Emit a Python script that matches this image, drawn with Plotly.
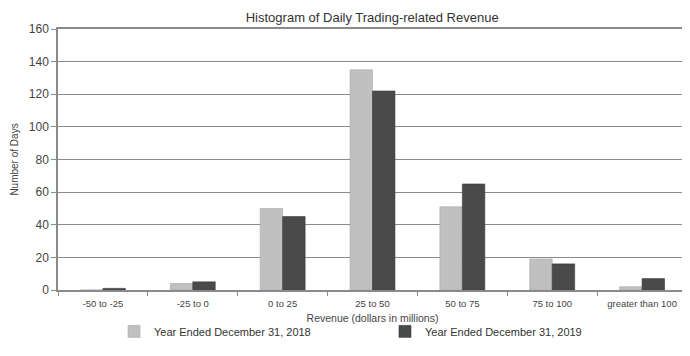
import plotly.graph_objects as go

categories = ["-50 to -25", "-25 to 0", "0 to 25", "25 to 50", "50 to 75", "75 to 100", "greater than 100"]
days_2018 = [0, 4, 50, 135, 51, 19, 2]
days_2019 = [1, 5, 45, 122, 65, 16, 7]
series_names = ["Year Ended December 31, 2018", "Year Ended December 31, 2019"]
y_ticks = [0, 20, 40, 60, 80, 100, 120, 140, 160]

FONT = "Liberation Sans Narrow, Liberation Sans, Arial, sans-serif"

fig = go.Figure()
fig.add_trace(go.Bar(x=categories, y=days_2018, name=series_names[0],
                     marker=dict(color="#c0c0c0", line=dict(color="#a8a8a8", width=0.6))))
fig.add_trace(go.Bar(x=categories, y=days_2019, name=series_names[1],
                     marker=dict(color="#4a4a4a", line=dict(color="#3a3a3a", width=0.6))))

fig.update_layout(
    width=682, height=348,
    margin=dict(l=50, r=3, t=21, b=66, autoexpand=False),
    paper_bgcolor="white", plot_bgcolor="white",
    barmode="group", bargap=0.5, bargroupgap=0,
    font=dict(family=FONT, size=11, color="#444444"),
    title=dict(text="Histogram of Daily Trading-related Revenue", x=0.534, xanchor="center",
               y=0.974, yanchor="middle", font=dict(family=FONT, size=13, color="#333333")),
    legend=dict(orientation="h", x=0.089, xanchor="left", y=-0.103, yanchor="top",
                entrywidth=226, entrywidthmode="pixels",
                font=dict(family=FONT, size=11, color="#333333"),
                itemwidth=30, traceorder="normal", tracegroupgap=0),
    xaxis=dict(type="category", showline=True, linecolor="#8a8a8a", linewidth=1.5,
               mirror=True, ticks="outside", tickson="boundaries", ticklen=4,
               tickcolor="#8a8a8a", showgrid=False, automargin=False,
               ticklabelstandoff=4,
               tickfont=dict(family=FONT, size=9.5, color="#444444"),
               title=dict(text="Revenue (dollars in millions)", standoff=6,
                          font=dict(family=FONT, size=10.5, color="#444444"))),
    yaxis=dict(range=[0, 160], tickvals=y_ticks, showline=True, linecolor="#8a8a8a",
               linewidth=1.5, mirror=True, ticks="outside", ticklen=5, tickcolor="#8a8a8a",
               showgrid=True, gridcolor="#8a8a8a", gridwidth=1, zeroline=False,
               automargin=False,
               tickfont=dict(family=FONT, size=12, color="#444444"),
               title=dict(text="Number of Days", standoff=8,
                          font=dict(family=FONT, size=10, color="#444444"))),
)

fig.write_html("out.html")
